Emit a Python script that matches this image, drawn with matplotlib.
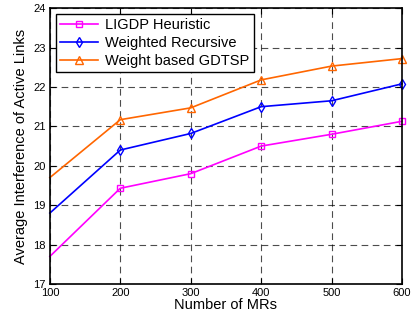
import matplotlib
matplotlib.use("Agg")
import matplotlib.pyplot as plt

mrs = [100, 200, 300, 400, 500, 600]
ligdp = [17.7, 19.43, 19.8, 20.5, 20.8, 21.13]
weighted_rec = [18.8, 20.4, 20.82, 21.5, 21.65, 22.08]
weight_gdtsp = [19.7, 21.17, 21.47, 22.18, 22.53, 22.72]

plt.rcParams['font.family'] = ['Liberation Sans', 'DejaVu Sans']

fig = plt.figure(figsize=(4.12, 3.2), dpi=100)
ax = fig.add_axes([0.121, 0.1125, 0.855, 0.862])

mk = slice(1, None)
ax.plot(mrs, ligdp, color='#ff00ff', marker='s', mfc='none', ms=5, lw=1.2,
        markevery=mk, label='LIGDP Heuristic', clip_on=False)
ax.plot(mrs, weighted_rec, color='#0000ff', marker='d', mfc='none', ms=5.5, lw=1.2,
        markevery=mk, label='Weighted Recursive', clip_on=False)
ax.plot(mrs, weight_gdtsp, color='#ff6600', marker='^', mfc='none', ms=6, lw=1.2,
        markevery=mk, label='Weight based GDTSP', clip_on=False)

ax.set_xlim(100, 600)
ax.set_ylim(17, 24)
ax.set_xticks(mrs)
ax.set_yticks(range(17, 25))
ax.tick_params(direction='in', top=True, right=True, labelsize=8, length=4)
ax.tick_params(axis='x', pad=3)
ax.tick_params(axis='y', pad=3)
ax.grid(True, color='black', linestyle=(0, (6, 4)), linewidth=0.8, alpha=0.7)
for s in ax.spines.values():
    s.set_linewidth(1.2)

ax.set_xlabel('Number of MRs', fontsize=10.5, labelpad=0)
ax.set_ylabel('Average Interference of Active Links', fontsize=10.5, labelpad=4)

leg = ax.legend(loc='upper left', fontsize=10.5, fancybox=False, framealpha=1,
                edgecolor='black', borderpad=0.3, labelspacing=0.25,
                handlelength=2.6, handletextpad=0.5, borderaxespad=0.4)
leg.get_frame().set_linewidth(1.0)

fig.savefig('out.png', dpi=100)
